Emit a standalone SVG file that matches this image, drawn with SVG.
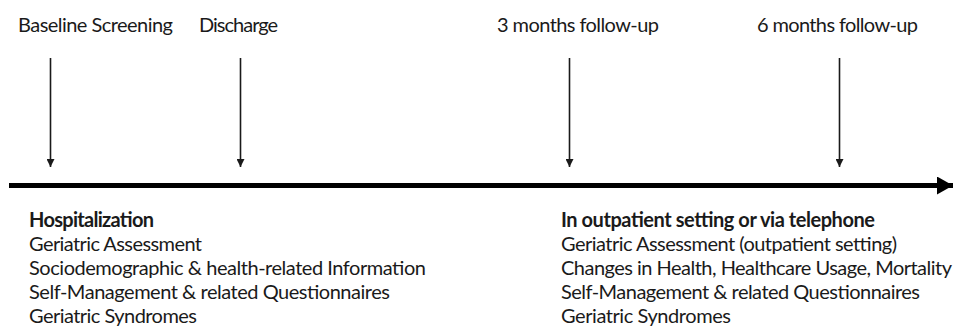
<svg xmlns="http://www.w3.org/2000/svg" width="954" height="326" viewBox="0 0 954 326">
<style>
text{font-family:Lato,"Open Sans","Liberation Sans",sans-serif;font-size:20px;fill:#1a1a1a}
.b{font-weight:bold}
.tick{stroke:#1a1a1a;stroke-width:1.6;fill:none}
.axis{stroke:#000;stroke-width:5;fill:none}
</style>
<defs>
<marker id="ah" markerWidth="8" markerHeight="8" viewBox="0 0 8 8" refX="8" refY="4" orient="auto" markerUnits="userSpaceOnUse">
<path d="M0,0 L8,4 L0,8 Z" fill="#1a1a1a"/>
</marker>
<marker id="big" markerWidth="16" markerHeight="18" viewBox="0 0 16 18" refX="16" refY="9" orient="auto" markerUnits="userSpaceOnUse">
<path d="M0,0 L16,9 L0,18 Z" fill="#000"/>
</marker>
</defs>
<g id="connectors">
<line class="tick" x1="50.5" y1="58" x2="50.5" y2="167" marker-end="url(#ah)"/>
<line class="tick" x1="240.5" y1="58" x2="240.5" y2="167" marker-end="url(#ah)"/>
<line class="tick" x1="569.5" y1="58" x2="569.5" y2="167" marker-end="url(#ah)"/>
<line class="tick" x1="839.5" y1="58" x2="839.5" y2="167" marker-end="url(#ah)"/>
<line class="axis" x1="9" y1="185.5" x2="953" y2="185.5" marker-end="url(#big)"/>
</g>
<g id="baseline"><text x="18" y="32" textLength="155">Baseline Screening</text></g>
<g id="discharge"><text x="199" y="32" textLength="79">Discharge</text></g>
<g id="followup3"><text x="497" y="32" textLength="162">3 months follow-up</text></g>
<g id="followup6"><text x="757" y="32" textLength="161">6 months follow-up</text></g>
<g id="hospitalization">
<text class="b" x="29" y="227" textLength="125">Hospitalization</text>
<text x="29" y="251" textLength="173">Geriatric Assessment</text>
<text x="29" y="275" textLength="397">Sociodemographic &amp; health-related Information</text>
<text x="29" y="299" textLength="361">Self-Management &amp; related Questionnaires</text>
<text x="29" y="323" textLength="168">Geriatric Syndromes</text>
</g>
<g id="outpatient">
<text class="b" x="561" y="227" textLength="314">In outpatient setting or via telephone</text>
<text x="561" y="251" textLength="336">Geriatric Assessment (outpatient setting)</text>
<text x="561" y="275" textLength="391">Changes in Health, Healthcare Usage, Mortality</text>
<text x="561" y="299" textLength="359">Self-Management &amp; related Questionnaires</text>
<text x="561" y="323" textLength="170">Geriatric Syndromes</text>
</g>
</svg>
